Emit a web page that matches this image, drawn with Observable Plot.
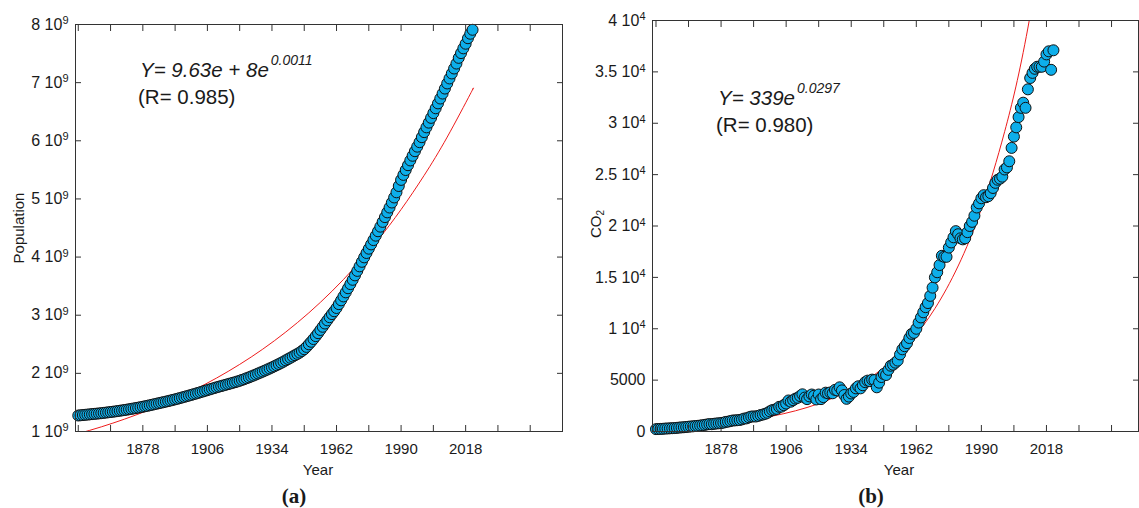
<!DOCTYPE html>
<html><head><meta charset="utf-8">
<script src="https://cdn.jsdelivr.net/npm/d3@7"></script>
<script src="https://cdn.jsdelivr.net/npm/@observablehq/plot@0.6"></script>
<style>
body{margin:0;background:#fff;}
#wrap{position:relative;width:1139px;height:508px;overflow:hidden;}
#wrap svg{position:absolute;top:0;}
</style></head><body><div id="wrap"></div>
<script>
const FONT = "'Liberation Sans', Arial, Helvetica, sans-serif";

// ---------- data ----------
const years = d3.range(1850, 2022); // 1850 ... 2021

// world population, billions
const population = [
  1.275,1.279,1.283,1.287,1.291,1.295,1.299,1.303,1.307,1.311,
  1.315,1.320,1.325,1.330,1.335,1.340,1.345,1.351,1.357,1.363,
  1.369,1.375,1.382,1.389,1.396,1.403,1.410,1.418,1.426,1.434,
  1.442,1.451,1.460,1.469,1.478,1.487,1.496,1.505,1.514,1.523,
  1.533,1.543,1.553,1.563,1.574,1.585,1.596,1.607,1.618,1.629,
  1.641,1.652,1.664,1.676,1.688,1.700,1.712,1.724,1.736,1.748,
  1.760,1.771,1.782,1.793,1.804,1.815,1.826,1.837,1.848,1.860,
  1.873,1.887,1.901,1.916,1.931,1.947,1.963,1.980,1.997,2.014,
  2.031,2.048,2.066,2.084,2.102,2.121,2.140,2.160,2.181,2.202,
  2.224,2.246,2.268,2.290,2.312,2.334,2.357,2.385,2.415,2.455,
  2.499,2.543,2.590,2.640,2.691,2.746,2.801,2.857,2.912,2.966,
  3.019,3.068,3.124,3.190,3.256,3.323,3.393,3.464,3.535,3.609,
  3.685,3.762,3.840,3.918,3.995,4.070,4.144,4.218,4.292,4.368,
  4.444,4.523,4.605,4.687,4.769,4.852,4.938,5.025,5.114,5.222,
  5.327,5.413,5.497,5.580,5.662,5.742,5.821,5.899,5.976,6.062,
  6.149,6.231,6.312,6.394,6.476,6.559,6.643,6.727,6.812,6.898,
  6.986,7.072,7.158,7.243,7.328,7.426,7.508,7.590,7.669,7.764,
  7.841,7.909
];

// CO2 emissions
const co2 = [
  230,240,250,262,285,295,310,322,335,355,
  380,400,415,440,465,490,505,535,550,580,
  610,645,690,720,710,750,780,800,820,860,
  930,960,1010,1070,1080,1100,1120,1180,1260,1280,
  1380,1450,1470,1460,1520,1600,1650,1720,1820,1960,
  2080,2130,2200,2400,2420,2560,2720,3020,2900,3050,
  3200,3280,3450,3620,3300,3150,3420,3600,3480,3120,
  3600,3150,3350,3780,3720,3800,3720,4050,4000,4300,
  4000,3550,3180,3400,3700,3850,4200,4400,4200,4500,
  4800,4950,4900,5050,5000,4300,4750,5300,5600,5500,
  6000,6400,6500,6700,6900,7500,8000,8300,8600,9100,
  9500,9600,10000,10600,11100,11600,12100,12500,13200,14000,
  15000,15500,16200,17100,17000,17000,17900,18400,18900,19500,
  19200,18800,18700,18800,19400,20000,20400,21000,21800,22200,
  22700,23000,22800,22900,23200,23700,24200,24500,24600,24800,
  25500,25700,26300,27600,28700,29600,30600,31500,32000,31500,
  33300,34400,34900,35300,35500,35500,35500,36000,36700,37000,
  35200,37100
];

// fitted curves (red), read at these years
const fitYears = [1850,1860,1870,1880,1890,1900,1910,1920,1930,1940,1950,1960,1970,1980,1990,2000,2010,2020,2021];
const popFit = [0.963,1.080,1.212,1.360,1.525,1.711,1.920,2.154,2.416,2.711,3.041,3.412,3.828,4.295,4.818,5.405,6.064,6.803,6.88];
const co2Fit = [339,456,614,826,1112,1497,2014,2711,3648,4910,6607,8893,11967,16108,21678,29175,39264,52840,54430];

// axis ticks
const xTicks = [1850,1864,1878,1892,1906,1920,1934,1948,1962,1976,1990,2004,2018,2032,2046,2060];
const xLabelTicks = [1878,1906,1934,1962,1990,2018];
const popTicks = [1,2,3,4,5,6,7,8];
const popTickLabels = ["1 10^9","2 10^9","3 10^9","4 10^9","5 10^9","6 10^9","7 10^9","8 10^9"];
const co2Ticks = [0,5000,10000,15000,20000,25000,30000,35000,40000];
const co2TickLabels = ["0","5000","1 10^4","1.5 10^4","2 10^4","2.5 10^4","3 10^4","3.5 10^4","4 10^4"];

// ---------- drawing ----------
const DOT_FILL = "#0daeea";
const FIT_RED = "#ee1c1c";

function panel(o) {
  const data = years.map((t, i) => ({t, v: o.values[i]}));
  const fit = fitYears.map((t, i) => ({t, v: o.fit[i]}));
  const lab = new Map(o.yTicks.map((d, i) => [d, o.yLabels[i]]));
  const svg = Plot.plot({
    width: o.width, height: 508,
    marginLeft: o.ml, marginRight: o.mr, marginTop: o.mt, marginBottom: 77,
    style: {fontFamily: FONT, fontSize: "15px", color: "#1a1a1a", background: "transparent"},
    x: {domain: o.xDomain},
    y: {domain: o.yDomain},
    marks: [
      Plot.line(fit, {x: "t", y: "v", stroke: FIT_RED, strokeWidth: 1, curve: "natural", clip: true}),
      Plot.dot(data, {x: "t", y: "v", r: 5.5, fill: DOT_FILL, stroke: "#111", strokeWidth: 1}),
      Plot.frame({stroke: "#333"}),
      Plot.axisX({anchor: "bottom", ticks: xTicks, tickSize: -6, tickFormat: () => "", label: null, stroke: "#333"}),
      Plot.axisX({anchor: "top", ticks: xTicks, tickSize: -6, tickFormat: () => "", label: null, stroke: "#333"}),
      Plot.axisX({anchor: "bottom", ticks: xLabelTicks, tickSize: 0, tickPadding: 12, tickFormat: d => String(d), label: null}),
      Plot.axisY({anchor: "left", ticks: o.yTicks, tickSize: -6, tickFormat: () => "", label: null, stroke: "#333"}),
      Plot.axisY({anchor: "right", ticks: o.yTicks, tickSize: -6, tickFormat: () => "", label: null, stroke: "#333"}),
      Plot.axisY({anchor: "left", ticks: o.yTicks, tickSize: 0, tickPadding: 7, fontSize: 16, tickFormat: d => lab.get(d), label: null})
    ]
  });
  svg.style.left = o.left + "px";
  // superscripts in the y tick labels
  d3.select(svg).selectAll('g[aria-label="y-axis tick label"] text').each(function () {
    const s = this.textContent, k = s.indexOf("^");
    if (k < 0) return;
    const t = d3.select(this);
    t.text(s.slice(0, k));
    t.append("tspan").attr("dy", "-0.5em").attr("font-size", "11px").text(s.slice(k + 1));
  });
  return svg;
}

const wrap = document.getElementById("wrap");
wrap.appendChild(panel({
  values: population, fit: popFit, xDomain: [1848.8, 2060], yDomain: [1, 8],
  yTicks: popTicks, yLabels: popTickLabels, width: 600, left: 0, ml: 75, mr: 38, mt: 24
}));
wrap.appendChild(panel({
  values: co2, fit: co2Fit, xDomain: [1848.5, 2057.6], yDomain: [0, 40000],
  yTicks: co2Ticks, yLabels: co2TickLabels, width: 559, left: 580, ml: 72, mr: 1, mt: 20
}));

// overlay text (titles, equations, panel letters)
const ov = d3.select(wrap).append("svg")
  .attr("width", 1139).attr("height", 508)
  .style("left", "0px").style("pointer-events", "none")
  .attr("font-family", FONT).attr("fill", "#1a1a1a");

ov.append("text").attr("transform", "translate(24,228) rotate(-90)")
  .attr("text-anchor", "middle").attr("font-size", 15).text("Population");
const co = ov.append("text").attr("transform", "translate(601,224) rotate(-90)")
  .attr("text-anchor", "middle").attr("font-size", 15).text("CO");
co.append("tspan").attr("dy", "0.3em").attr("font-size", 10).text("2");

ov.append("text").attr("x", 318).attr("y", 475).attr("text-anchor", "middle").attr("font-size", 15).text("Year");
ov.append("text").attr("x", 899).attr("y", 475).attr("text-anchor", "middle").attr("font-size", 15).text("Year");

const serif = "'Liberation Serif', 'Times New Roman', serif";
ov.append("text").attr("x", 294).attr("y", 503).attr("text-anchor", "middle").attr("font-family", serif)
  .attr("font-weight", "bold").attr("font-size", 21).text("(a)");
ov.append("text").attr("x", 871).attr("y", 503).attr("text-anchor", "middle").attr("font-family", serif)
  .attr("font-weight", "bold").attr("font-size", 21).text("(b)");

function eq(x, y, main, sup, r) {
  const t = ov.append("text").attr("x", x).attr("y", y).attr("font-size", 20.5).attr("font-style", "italic").text(main);
  t.append("tspan").attr("dx", 2).attr("dy", -12).attr("font-size", 14).text(sup);
  ov.append("text").attr("x", x - 2).attr("y", y + 27).attr("font-size", 20.5).text(r);
}
eq(140, 77, "Y= 9.63e + 8e", "0.0011", "(R= 0.985)");
eq(718, 105, "Y= 339e", "0.0297", "(R= 0.980)");
</script>
</body></html>
